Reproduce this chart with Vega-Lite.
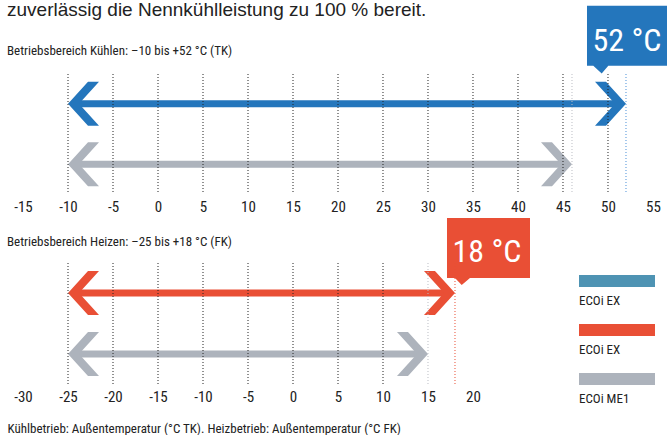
{
  "$schema": "https://vega.github.io/schema/vega-lite/v6.json",
  "background": "white",
  "padding": 0,
  "autosize": {"type": "pad"},
  "bounds": "flush",
  "spacing": 69,
  "datasets": {
    "ranges": [
      {"mode": "Kühlen", "model": "ECOi EX", "series": "Kühlen ECOi EX", "min": -10, "max": 52, "label": "52 °C"},
      {"mode": "Kühlen", "model": "ECOi ME1", "series": "Kühlen ECOi ME1", "min": -10, "max": 46, "label": ""},
      {"mode": "Heizen", "model": "ECOi EX", "series": "Heizen ECOi EX", "min": -25, "max": 18, "label": "18 °C"},
      {"mode": "Heizen", "model": "ECOi ME1", "series": "Heizen ECOi ME1", "min": -25, "max": 15, "label": ""}
    ],
    "grid": [
      {"mode": "Kühlen", "t": -10}, {"mode": "Kühlen", "t": -5}, {"mode": "Kühlen", "t": 0}, {"mode": "Kühlen", "t": 5},
      {"mode": "Kühlen", "t": 10}, {"mode": "Kühlen", "t": 15}, {"mode": "Kühlen", "t": 20}, {"mode": "Kühlen", "t": 25},
      {"mode": "Kühlen", "t": 30}, {"mode": "Kühlen", "t": 35}, {"mode": "Kühlen", "t": 40}, {"mode": "Kühlen", "t": 45},
      {"mode": "Kühlen", "t": 50},
      {"mode": "Heizen", "t": -25}, {"mode": "Heizen", "t": -20}, {"mode": "Heizen", "t": -15}, {"mode": "Heizen", "t": -10},
      {"mode": "Heizen", "t": -5}, {"mode": "Heizen", "t": 0}, {"mode": "Heizen", "t": 5}, {"mode": "Heizen", "t": 10}
    ],
    "legend": [
      {"entry": "Kühlen ECOi EX", "label": "ECOi EX"},
      {"entry": "Heizen ECOi EX", "label": "ECOi EX"},
      {"entry": "ECOi ME1", "label": "ECOi ME1"}
    ]
  },
  "resolve": {"scale": {"x": "independent", "y": "independent", "color": "independent", "stroke": "independent"}},
  "vconcat": [
    {
      "width": 667,
      "height": 120,
      "title": {
        "text": "zuverlässig die Nennkühlleistung zu 100 % bereit.",
        "subtitle": "Betriebsbereich Kühlen: –10 bis +52 °C (TK)",
        "anchor": "start",
        "frame": "group",
        "dx": 7,
        "offset": -52.7,
        "font": "Liberation Sans, Arial, sans-serif",
        "fontSize": 19,
        "fontWeight": "normal",
        "color": "#222222",
        "subtitleFont": "Roboto Condensed, Noto Sans ExtraCondensed, Noto Sans Condensed, Open Sans Condensed, DejaVu Sans Condensed, sans-serif",
        "subtitleFontSize": 13,
        "subtitleColor": "#222222",
        "subtitlePadding": 25.7
      },
      "layer": [
        {
          "data": {"name": "ranges"},
          "transform": [{"filter": {"field": "mode", "equal": "Kühlen"}}],
          "mark": {"type": "rule", "strokeWidth": 7, "xOffset": 4, "x2Offset": -4},
          "encoding": {
            "x": {"field": "min", "type": "quantitative", "scale": {"domain": [-17.5556, 56.5556], "nice": false, "zero": false},
                  "axis": {"values": [-15, -10, -5, 0, 5, 10, 15, 20, 25, 30, 35, 40, 45, 50, 55], "labelExpr": "'' + datum.value", "title": null}},
            "x2": {"field": "max"},
            "y": {"field": "model", "type": "nominal", "scale": {"type": "point", "domain": ["ECOi EX", "ECOi ME1"], "padding": 0.49}, "axis": null},
            "color": {"field": "series", "type": "nominal", "scale": {"domain": ["Kühlen ECOi EX", "Heizen ECOi EX", "Kühlen ECOi ME1", "Heizen ECOi ME1"], "range": ["#2476BC", "#E94F35", "#ADB3BC", "#ADB3BC"]}, "legend": null}
          }
        },
        {
          "data": {"name": "ranges"},
          "transform": [{"filter": {"field": "mode", "equal": "Kühlen"}}],
          "mark": {"type": "point", "shape": "M0,0L20,-22L31,-22L11,0L31,22L20,22Z", "size": 4, "filled": true, "opacity": 1, "strokeWidth": 0},
          "encoding": {
            "x": {"field": "min", "type": "quantitative", "scale": {"domain": [-17.5556, 56.5556], "nice": false, "zero": false},
                  "axis": {"values": [-15, -10, -5, 0, 5, 10, 15, 20, 25, 30, 35, 40, 45, 50, 55], "labelExpr": "'' + datum.value", "title": null}},
            "y": {"field": "model", "type": "nominal", "scale": {"type": "point", "domain": ["ECOi EX", "ECOi ME1"], "padding": 0.49}, "axis": null},
            "color": {"field": "series", "type": "nominal", "scale": {"domain": ["Kühlen ECOi EX", "Heizen ECOi EX", "Kühlen ECOi ME1", "Heizen ECOi ME1"], "range": ["#2476BC", "#E94F35", "#ADB3BC", "#ADB3BC"]}, "legend": null}
          }
        },
        {
          "data": {"name": "ranges"},
          "transform": [{"filter": {"field": "mode", "equal": "Kühlen"}}],
          "mark": {"type": "point", "shape": "M0,0L-20,-22L-31,-22L-11,0L-31,22L-20,22Z", "size": 4, "filled": true, "opacity": 1, "strokeWidth": 0},
          "encoding": {
            "x": {"field": "max", "type": "quantitative", "scale": {"domain": [-17.5556, 56.5556], "nice": false, "zero": false},
                  "axis": {"values": [-15, -10, -5, 0, 5, 10, 15, 20, 25, 30, 35, 40, 45, 50, 55], "labelExpr": "'' + datum.value", "title": null}},
            "y": {"field": "model", "type": "nominal", "scale": {"type": "point", "domain": ["ECOi EX", "ECOi ME1"], "padding": 0.49}, "axis": null},
            "color": {"field": "series", "type": "nominal", "scale": {"domain": ["Kühlen ECOi EX", "Heizen ECOi EX", "Kühlen ECOi ME1", "Heizen ECOi ME1"], "range": ["#2476BC", "#E94F35", "#ADB3BC", "#ADB3BC"]}, "legend": null}
          }
        },
        {
          "data": {"name": "ranges"},
          "transform": [{"filter": {"field": "mode", "equal": "Kühlen"}}, {"filter": {"field": "model", "equal": "ECOi EX"}}],
          "mark": {"type": "point", "shape": "M-39,-98L42,-98L42,-38L-17.7,-38L-24.3,-30.3L-32.7,-38L-39,-38Z", "size": 4, "filled": true, "opacity": 1, "strokeWidth": 0},
          "encoding": {
            "x": {"field": "max", "type": "quantitative", "scale": {"domain": [-17.5556, 56.5556], "nice": false, "zero": false},
                  "axis": {"values": [-15, -10, -5, 0, 5, 10, 15, 20, 25, 30, 35, 40, 45, 50, 55], "labelExpr": "'' + datum.value", "title": null}},
            "y": {"field": "model", "type": "nominal", "scale": {"type": "point", "domain": ["ECOi EX", "ECOi ME1"], "padding": 0.49}, "axis": null},
            "color": {"field": "series", "type": "nominal", "scale": {"domain": ["Kühlen ECOi EX", "Heizen ECOi EX", "Kühlen ECOi ME1", "Heizen ECOi ME1"], "range": ["#2476BC", "#E94F35", "#ADB3BC", "#ADB3BC"]}, "legend": null}
          }
        },
        {
          "data": {"name": "ranges"},
          "transform": [{"filter": {"field": "mode", "equal": "Kühlen"}}, {"filter": {"field": "model", "equal": "ECOi EX"}}],
          "mark": {"type": "text", "align": "center", "baseline": "middle", "dx": 1, "dy": -63, "fontSize": 32, "font": "Roboto Condensed, Noto Sans ExtraCondensed, Noto Sans Condensed, Open Sans Condensed, DejaVu Sans Condensed, sans-serif", "fill": "white"},
          "encoding": {
            "x": {"field": "max", "type": "quantitative", "scale": {"domain": [-17.5556, 56.5556], "nice": false, "zero": false},
                  "axis": {"values": [-15, -10, -5, 0, 5, 10, 15, 20, 25, 30, 35, 40, 45, 50, 55], "labelExpr": "'' + datum.value", "title": null}},
            "y": {"field": "model", "type": "nominal", "scale": {"type": "point", "domain": ["ECOi EX", "ECOi ME1"], "padding": 0.49}, "axis": null},
            "text": {"field": "label"}
          }
        },
        {
          "data": {"name": "grid"},
          "transform": [{"filter": {"field": "mode", "equal": "Kühlen"}}],
          "mark": {"type": "rule", "strokeDash": [1, 2], "strokeWidth": 1, "color": "#222222"},
          "encoding": {
            "x": {"field": "t", "type": "quantitative", "scale": {"domain": [-17.5556, 56.5556], "nice": false, "zero": false},
                  "axis": {"values": [-15, -10, -5, 0, 5, 10, 15, 20, 25, 30, 35, 40, 45, 50, 55], "labelExpr": "'' + datum.value", "title": null}}
          }
        },
        {
          "data": {"name": "ranges"},
          "transform": [{"filter": {"field": "mode", "equal": "Kühlen"}}],
          "mark": {"type": "rule", "strokeDash": [1, 2], "strokeWidth": 1},
          "encoding": {
            "x": {"field": "max", "type": "quantitative", "scale": {"domain": [-17.5556, 56.5556], "nice": false, "zero": false},
                  "axis": {"values": [-15, -10, -5, 0, 5, 10, 15, 20, 25, 30, 35, 40, 45, 50, 55], "labelExpr": "'' + datum.value", "title": null}},
            "stroke": {"field": "series", "type": "nominal", "scale": {"domain": ["Kühlen ECOi EX", "Heizen ECOi EX", "Kühlen ECOi ME1", "Heizen ECOi ME1"], "range": ["#4A90D9", "#E94F35", "#BBBEC4", "#BBBEC4"]}, "legend": null}
          }
        }
      ]
    },
    {
      "bounds": "flush",
      "spacing": 9,
      "resolve": {"scale": {"x": "independent", "y": "independent", "color": "independent", "stroke": "independent"}},
      "hconcat": [
        {
          "width": 570,
          "height": 121,
          "title": {
            "text": "Betriebsbereich Heizen: –25 bis +18 °C (FK)",
            "anchor": "start",
            "frame": "group",
            "dx": 7,
            "offset": -30.7,
            "font": "Roboto Condensed, Noto Sans ExtraCondensed, Noto Sans Condensed, Open Sans Condensed, DejaVu Sans Condensed, sans-serif",
            "fontSize": 13,
            "fontWeight": "normal",
            "color": "#222222"
          },
          "layer": [
            {
              "data": {"name": "ranges"},
              "transform": [{"filter": {"field": "mode", "equal": "Heizen"}}],
              "mark": {"type": "rule", "strokeWidth": 7, "xOffset": 4, "x2Offset": -4},
              "encoding": {
                "x": {"field": "min", "type": "quantitative", "scale": {"domain": [-32.5556, 30.7778], "nice": false, "zero": false},
                      "axis": {"values": [-30, -25, -20, -15, -10, -5, 0, 5, 10, 15, 20], "labelExpr": "'' + datum.value", "title": "Kühlbetrieb: Außentemperatur (°C TK). Heizbetrieb: Außentemperatur (°C FK)"}},
                "x2": {"field": "max"},
                "y": {"field": "model", "type": "nominal", "scale": {"type": "point", "domain": ["ECOi EX", "ECOi ME1"], "padding": 0.49}, "axis": null},
                "color": {"field": "series", "type": "nominal", "scale": {"domain": ["Kühlen ECOi EX", "Heizen ECOi EX", "Kühlen ECOi ME1", "Heizen ECOi ME1"], "range": ["#2476BC", "#E94F35", "#ADB3BC", "#ADB3BC"]}, "legend": null}
              }
            },
            {
              "data": {"name": "ranges"},
              "transform": [{"filter": {"field": "mode", "equal": "Heizen"}}],
              "mark": {"type": "point", "shape": "M0,0L20,-22L31,-22L11,0L31,22L20,22Z", "size": 4, "filled": true, "opacity": 1, "strokeWidth": 0},
              "encoding": {
                "x": {"field": "min", "type": "quantitative", "scale": {"domain": [-32.5556, 30.7778], "nice": false, "zero": false},
                      "axis": {"values": [-30, -25, -20, -15, -10, -5, 0, 5, 10, 15, 20], "labelExpr": "'' + datum.value", "title": "Kühlbetrieb: Außentemperatur (°C TK). Heizbetrieb: Außentemperatur (°C FK)"}},
                "y": {"field": "model", "type": "nominal", "scale": {"type": "point", "domain": ["ECOi EX", "ECOi ME1"], "padding": 0.49}, "axis": null},
                "color": {"field": "series", "type": "nominal", "scale": {"domain": ["Kühlen ECOi EX", "Heizen ECOi EX", "Kühlen ECOi ME1", "Heizen ECOi ME1"], "range": ["#2476BC", "#E94F35", "#ADB3BC", "#ADB3BC"]}, "legend": null}
              }
            },
            {
              "data": {"name": "ranges"},
              "transform": [{"filter": {"field": "mode", "equal": "Heizen"}}],
              "mark": {"type": "point", "shape": "M0,0L-20,-22L-31,-22L-11,0L-31,22L-20,22Z", "size": 4, "filled": true, "opacity": 1, "strokeWidth": 0},
              "encoding": {
                "x": {"field": "max", "type": "quantitative", "scale": {"domain": [-32.5556, 30.7778], "nice": false, "zero": false},
                      "axis": {"values": [-30, -25, -20, -15, -10, -5, 0, 5, 10, 15, 20], "labelExpr": "'' + datum.value", "title": "Kühlbetrieb: Außentemperatur (°C TK). Heizbetrieb: Außentemperatur (°C FK)"}},
                "y": {"field": "model", "type": "nominal", "scale": {"type": "point", "domain": ["ECOi EX", "ECOi ME1"], "padding": 0.49}, "axis": null},
                "color": {"field": "series", "type": "nominal", "scale": {"domain": ["Kühlen ECOi EX", "Heizen ECOi EX", "Kühlen ECOi ME1", "Heizen ECOi ME1"], "range": ["#2476BC", "#E94F35", "#ADB3BC", "#ADB3BC"]}, "legend": null}
              }
            },
            {
              "data": {"name": "ranges"},
              "transform": [{"filter": {"field": "mode", "equal": "Heizen"}}, {"filter": {"field": "model", "equal": "ECOi EX"}}],
              "mark": {"type": "point", "shape": "M-8,-75L75,-75L75,-15L15,-15L6.7,-8L0,-15L-8,-15Z", "size": 4, "filled": true, "opacity": 1, "strokeWidth": 0},
              "encoding": {
                "x": {"field": "max", "type": "quantitative", "scale": {"domain": [-32.5556, 30.7778], "nice": false, "zero": false},
                      "axis": {"values": [-30, -25, -20, -15, -10, -5, 0, 5, 10, 15, 20], "labelExpr": "'' + datum.value", "title": "Kühlbetrieb: Außentemperatur (°C TK). Heizbetrieb: Außentemperatur (°C FK)"}},
                "y": {"field": "model", "type": "nominal", "scale": {"type": "point", "domain": ["ECOi EX", "ECOi ME1"], "padding": 0.49}, "axis": null},
                "color": {"field": "series", "type": "nominal", "scale": {"domain": ["Kühlen ECOi EX", "Heizen ECOi EX", "Kühlen ECOi ME1", "Heizen ECOi ME1"], "range": ["#2476BC", "#E94F35", "#ADB3BC", "#ADB3BC"]}, "legend": null}
              }
            },
            {
              "data": {"name": "ranges"},
              "transform": [{"filter": {"field": "mode", "equal": "Heizen"}}, {"filter": {"field": "model", "equal": "ECOi EX"}}],
              "mark": {"type": "text", "align": "center", "baseline": "middle", "dx": 32, "dy": -40.5, "fontSize": 32, "font": "Roboto Condensed, Noto Sans ExtraCondensed, Noto Sans Condensed, Open Sans Condensed, DejaVu Sans Condensed, sans-serif", "fill": "white"},
              "encoding": {
                "x": {"field": "max", "type": "quantitative", "scale": {"domain": [-32.5556, 30.7778], "nice": false, "zero": false},
                      "axis": {"values": [-30, -25, -20, -15, -10, -5, 0, 5, 10, 15, 20], "labelExpr": "'' + datum.value", "title": "Kühlbetrieb: Außentemperatur (°C TK). Heizbetrieb: Außentemperatur (°C FK)"}},
                "y": {"field": "model", "type": "nominal", "scale": {"type": "point", "domain": ["ECOi EX", "ECOi ME1"], "padding": 0.49}, "axis": null},
                "text": {"field": "label"}
              }
            },
            {
              "data": {"name": "grid"},
              "transform": [{"filter": {"field": "mode", "equal": "Heizen"}}],
              "mark": {"type": "rule", "strokeDash": [1, 2], "strokeWidth": 1, "color": "#222222"},
              "encoding": {
                "x": {"field": "t", "type": "quantitative", "scale": {"domain": [-32.5556, 30.7778], "nice": false, "zero": false},
                      "axis": {"values": [-30, -25, -20, -15, -10, -5, 0, 5, 10, 15, 20], "labelExpr": "'' + datum.value", "title": "Kühlbetrieb: Außentemperatur (°C TK). Heizbetrieb: Außentemperatur (°C FK)"}}
              }
            },
            {
              "data": {"name": "ranges"},
              "transform": [{"filter": {"field": "mode", "equal": "Heizen"}}],
              "mark": {"type": "rule", "strokeDash": [1, 2], "strokeWidth": 1},
              "encoding": {
                "x": {"field": "max", "type": "quantitative", "scale": {"domain": [-32.5556, 30.7778], "nice": false, "zero": false},
                      "axis": {"values": [-30, -25, -20, -15, -10, -5, 0, 5, 10, 15, 20], "labelExpr": "'' + datum.value", "title": "Kühlbetrieb: Außentemperatur (°C TK). Heizbetrieb: Außentemperatur (°C FK)"}},
                "stroke": {"field": "series", "type": "nominal", "scale": {"domain": ["Kühlen ECOi EX", "Heizen ECOi EX", "Kühlen ECOi ME1", "Heizen ECOi ME1"], "range": ["#4A90D9", "#E94F35", "#BBBEC4", "#BBBEC4"]}, "legend": null}
              }
            }
          ]
        },
        {
          "width": 76,
          "height": 134,
          "data": {"name": "legend"},
          "layer": [
            {
              "mark": {"type": "rule", "strokeWidth": 12},
              "encoding": {
                "y": {"field": "entry", "type": "nominal", "scale": {"type": "point", "domain": ["Kühlen ECOi EX", "Heizen ECOi EX", "ECOi ME1"], "padding": 0.367}, "axis": null},
                "color": {"field": "entry", "type": "nominal", "scale": {"domain": ["Kühlen ECOi EX", "Heizen ECOi EX", "ECOi ME1"], "range": ["#4E93B3", "#E94F35", "#ADB3BC"]}, "legend": null}
              }
            },
            {
              "mark": {"type": "text", "align": "left", "baseline": "middle", "dx": -38, "dy": 20, "font": "Roboto Condensed, Noto Sans ExtraCondensed, Noto Sans Condensed, Open Sans Condensed, DejaVu Sans Condensed, sans-serif", "fontSize": 13, "fill": "#222222"},
              "encoding": {
                "y": {"field": "entry", "type": "nominal", "scale": {"type": "point", "domain": ["Kühlen ECOi EX", "Heizen ECOi EX", "ECOi ME1"], "padding": 0.367}, "axis": null},
                "text": {"field": "label"}
              }
            }
          ]
        }
      ]
    }
  ],
  "config": {
    "view": {"stroke": null},
    "axis": {"domain": false, "ticks": false, "tickSize": 0, "grid": false,
             "labelFont": "Roboto Condensed, Noto Sans ExtraCondensed, Noto Sans Condensed, Open Sans Condensed, DejaVu Sans Condensed, sans-serif",
             "labelFontSize": 15, "labelColor": "#222222", "labelPadding": 17, "labelBaseline": "alphabetic",
             "labelFlush": false, "labelOverlap": false,
             "titleX": 7, "titleY": 48, "titleAlign": "left", "titleAnchor": "start", "titleBaseline": "alphabetic",
             "titleFont": "Roboto Condensed, Noto Sans ExtraCondensed, Noto Sans Condensed, Open Sans Condensed, DejaVu Sans Condensed, sans-serif",
             "titleFontSize": 13, "titleFontWeight": "normal", "titleColor": "#222222"},
    "point": {"opacity": 1}
  }
}
